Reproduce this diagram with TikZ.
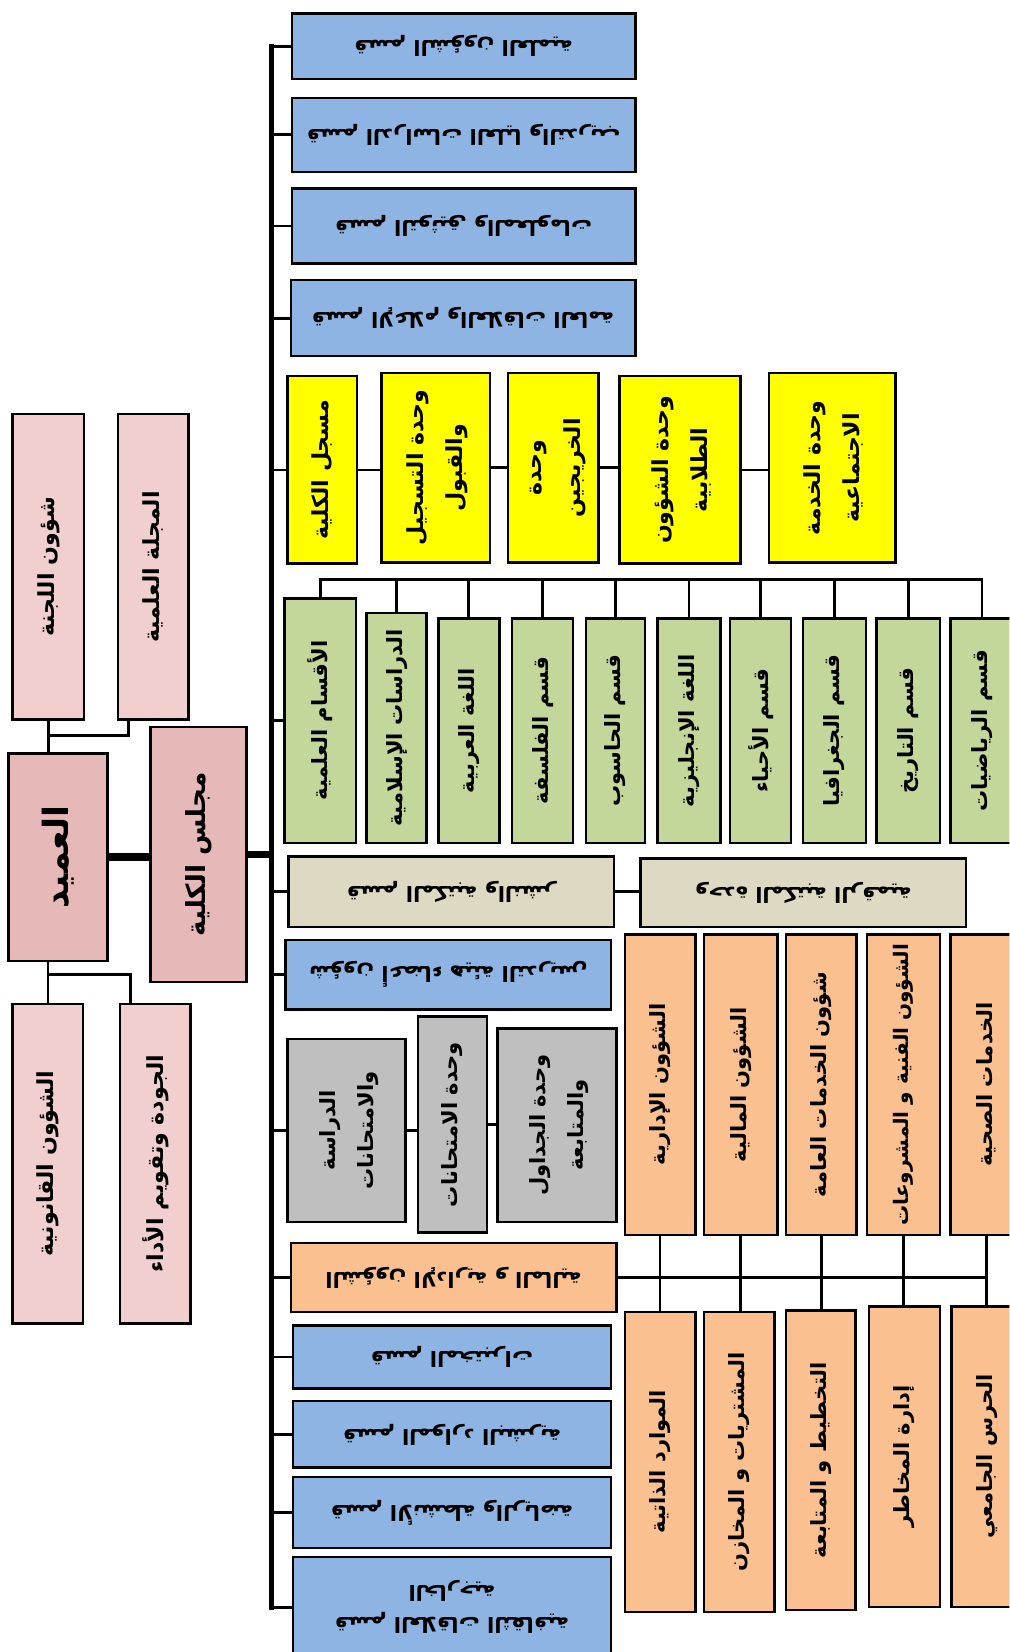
\documentclass[tikz,border=0pt]{standalone}
\usepackage{fontspec}
\newfontfamily\arabicfont[Script=Arabic]{DejaVu Sans}
\TeXXeTstate=1
\definecolor{pinkdark}{HTML}{E6B9B8}
\definecolor{pinklight}{HTML}{F0CFCE}
\definecolor{blueC}{HTML}{8DB4E2}
\definecolor{yellowC}{HTML}{FFFF00}
\definecolor{greenC}{HTML}{C4D79B}
\definecolor{beigeC}{HTML}{DDD9C3}
\definecolor{grayC}{HTML}{BFBFBF}
\definecolor{orangeC}{HTML}{FAC090}
\newcommand\artx[1]{{\arabicfont\bfseries\beginR #1\endR}}
\newcommand\vone[1]{\rotatebox{90}{\artx{#1}}}
\newcommand\vtwo[2]{\rotatebox{90}{\begin{tabular}{@{}c@{}}\artx{#1}\\\artx{#2}\end{tabular}}}
\newcommand\uone[1]{\rotatebox{180}{\artx{#1}}}
\newcommand\utwo[2]{\rotatebox{180}{\begin{tabular}{@{}c@{}}\artx{#1}\\\artx{#2}\end{tabular}}}
\newcommand\obox[7]{\node[#1,minimum width={(#5-#3)*1pt},minimum height={(#6-#4)*1pt}] (#2) at ({(#3+#5)/2},{(#4+#6)/2}) {#7};}
\tikzset{
  box/.style={draw=black, line width=2.3pt, inner sep=0pt, outer sep=0pt},
  pinkA/.style={box, fill=pinkdark},
  pinkB/.style={box, fill=pinklight, font=\fontsize{21}{30}\selectfont},
  bluebox/.style={box, fill=blueC, font=\fontsize{20}{30}\selectfont},
  yellowbox/.style={box, fill=yellowC, font=\fontsize{21}{37}\selectfont},
  greenbox/.style={box, fill=greenC, font=\fontsize{20}{30}\selectfont},
  beigebox/.style={box, fill=beigeC, font=\fontsize{20}{30}\selectfont},
  graybox/.style={box, fill=grayC, font=\fontsize{20}{36}\selectfont},
  orangebox/.style={box, fill=orangeC, font=\fontsize{20}{30}\selectfont},
  orangeh/.style={box, fill=orangeC, font=\fontsize{20}{30}\selectfont},
  conn/.style={line width=2.6pt},
  thickconn/.style={line width=7.5pt},
  trunkline/.style={line width=4.5pt, line cap=rect}
}
\begin{document}
\begin{tikzpicture}[x=1pt,y=-1pt]
\useasboundingbox (0,0) rectangle (958,1568);
\fill[white] (0,0) rectangle (958,1568);
\clip (0,0) rectangle (958,1568);
% pink column
\obox{pinkB}{lj}{12}{393}{80}{683}{\vone{شؤون اللجنة}}
\obox{pinkB}{mj}{112}{393}{179}{683}{\vone{المجلة العلمية}}
\obox{pinkA,font=\fontsize{33}{38}\selectfont}{dean}{8}{715}{102}{912}{\vone{العميد}}
\obox{pinkA,font=\fontsize{25}{32}\selectfont}{majlis}{143}{690}{234}{932}{\vone{مجلس الكلية}}
\obox{pinkB}{ql}{12}{953}{79}{1256}{\vone{الشؤون القانونية}}
\obox{pinkB}{jd}{114}{953}{181}{1256}{\vone{الجودة وتقويم الأداء}}
% blue top
\obox{bluebox}{b1}{277}{13}{603}{75}{\uone{قسم الشؤون العلمية}}
\obox{bluebox}{b2}{277}{93}{603}{163}{\uone{قسم الدراسات العليا والتدريب}}
\obox{bluebox}{b3}{277}{179}{603}{250}{\uone{قسم التوثيق والمعلومات}}
\obox{bluebox}{b4}{276}{266}{603}{338}{\uone{قسم الإعلام والعلاقات العامة}}
% yellow
\obox{yellowbox}{y1}{273}{357}{339}{535}{\vone{مسجل الكلية}}
\obox{yellowbox}{y2}{362}{354}{465}{534}{\vtwo{وحدة التسجيل}{والقبول}}
\obox{yellowbox}{y3}{482}{354}{568}{534}{\vtwo{وحدة}{الخريجين}}
\obox{yellowbox}{y4}{588}{357}{703}{535}{\vtwo{وحدة الشؤون}{الطلابية}}
\obox{yellowbox}{y5}{730}{354}{850}{534}{\vtwo{وحدة الخدمة}{الاجتماعية}}
% green
\obox{greenbox}{g1}{270}{568}{338}{800}{\vone{الأقسام العلمية}}
\obox{greenbox}{g2}{348}{582}{405}{800}{\vone{الدراسات الإسلامية}}
\obox{greenbox}{g3}{416}{587}{474}{800}{\vone{اللغة العربية}}
\obox{greenbox}{g4}{486}{587}{544}{800}{\vone{قسم الفلسفة}}
\obox{greenbox}{g5}{556}{587}{612}{800}{\vone{قسم الحاسوب}}
\obox{greenbox}{g6}{624}{587}{684}{800}{\vone{اللغة الإنجليزية}}
\obox{greenbox}{g7}{693}{587}{751}{800}{\vone{قسم الأحياء}}
\obox{greenbox}{g8}{762}{587}{822}{800}{\vone{قسم الجغرافيا}}
\obox{greenbox}{g9}{832}{587}{892}{800}{\vone{قسم التاريخ}}
\obox{greenbox}{g10}{902}{587}{962}{800}{\vone{قسم الرياضيات}}
% beige
\obox{beigebox}{e1}{274}{813}{583}{880}{\uone{قسم المكتبة والنشر}}
\obox{beigebox}{e2}{608}{815}{917}{880}{\uone{وحدة المكتبة الرقمية}}
% blue middle
\obox{bluebox}{bm}{271}{892}{580}{958}{\uone{شؤون أعضاء هيئة التدريس}}
% gray
\obox{graybox}{r1}{273}{986}{385}{1160}{\vtwo{الدراسة}{والامتحانات}}
\obox{graybox}{r2}{397}{965}{462}{1170}{\vone{وحدة الامتحانات}}
\obox{graybox}{r3}{472}{976}{585}{1160}{\vtwo{وحدة الجداول}{والمتابعة}}
% orange
\obox{orangebox}{o1}{593}{887}{660}{1172}{\vone{الشؤون الإدارية}}
\obox{orangebox}{o2}{668}{887}{738}{1172}{\vone{الشؤون المالية}}
\obox{orangebox}{o3}{746}{887}{813}{1172}{\vone{شؤون الخدمات العامة}}
\obox{orangebox,font=\fontsize{19}{30}\selectfont}{o4}{823}{887}{892}{1172}{\vone{الشؤون الفنية و المشروعات}}
\obox{orangebox}{o5}{902}{887}{970}{1172}{\vone{الخدمات الصحية}}
\obox{orangeh}{oh}{276}{1180}{585}{1245}{\uone{الشؤون الإدارية و المالية}}
\obox{orangebox}{o6}{593}{1245}{660}{1530}{\vone{الموارد الذاتية}}
\obox{orangebox}{o7}{668}{1245}{735}{1530}{\vone{المشتريات و المخازن}}
\obox{orangebox}{o8}{746}{1244}{812}{1528}{\vone{التخطيط و المتابعة}}
\obox{orangebox}{o9}{825}{1240}{892}{1525}{\vone{إدارة المخاطر}}
\obox{orangebox}{o10}{903}{1240}{970}{1525}{\vone{الحرس الجامعي}}
% blue bottom
\obox{bluebox}{c1}{278}{1258}{580}{1318}{\uone{قسم المختبرات}}
\obox{bluebox}{c2}{278}{1330}{580}{1393}{\uone{قسم الموارد البشرية}}
\obox{bluebox}{c3}{278}{1402}{580}{1469}{\uone{قسم الأنشطة والرياضة}}
\obox{bluebox}{c4}{278}{1478}{580}{1574}{\utwo{قسم العلاقات الثقافية}{الخارجية}}
% connectors
\coordinate (T) at (258,0);
\draw[trunkline] (b1.west -| T) -- (c4.west -| T);
\foreach \n in {b1,b2,b3,b4,y1,g1,e1,bm,r1,oh,c1,c2,c3,c4}
  \draw[conn] (\n.west -| T) -- (\n.west);
\draw[conn] (y1.east) -- (y1.east -| y2.west);
\draw[conn] (y2.east) -- (y2.east -| y3.west);
\draw[conn] (y3.east) -- (y3.east -| y4.west);
\draw[conn] (y4.east) -- (y4.east -| y5.west);
\coordinate (GB) at (0,550);
\draw[conn] (g1.north) -- (g1.north |- GB) -- (g10.north |- GB) -- (g10.north);
\foreach \n in {g2,g3,g4,g5,g6,g7,g8,g9}
  \draw[conn] (\n.north) -- (\n.north |- GB);
\draw[conn] (e1.east) -- (e1.east -| e2.west);
\draw[conn] (r1.east) -- (r1.east -| r2.west);
\draw[conn] (r2.east) -- (r2.east -| r3.west);
\draw[conn] (oh.east) -- (oh.east -| o5.south);
\draw[conn] (o1.south) -- (o1.south |- o6.north);
\draw[conn] (o2.south) -- (o2.south |- o7.north);
\draw[conn] (o3.south) -- (o3.south |- o8.north);
\draw[conn] (o4.south) -- (o4.south |- o9.north);
\draw[conn] (o5.south) -- (o5.south |- o10.north);
% pink connectors
\draw[conn] (lj.south) -- (lj.south |- dean.north);
\coordinate (PJ) at (0,698);
\coordinate (mjc) at ([xshift=10pt]mj.south west);
\draw[conn] (lj.south |- PJ) -- (mjc |- PJ) -- (mjc);
\draw[conn] (ql.north) -- (ql.north |- dean.south);
\coordinate (PQ) at (0,925);
\coordinate (jdc) at ([xshift=10pt]jd.north west);
\draw[conn] (ql.north |- PQ) -- (jdc |- PQ) -- (jdc);
\draw[thickconn] (dean.east) -- (dean.east -| majlis.west);
\draw[thickconn] (majlis.east) -- (majlis.east -| T);
\end{tikzpicture}
\end{document}
